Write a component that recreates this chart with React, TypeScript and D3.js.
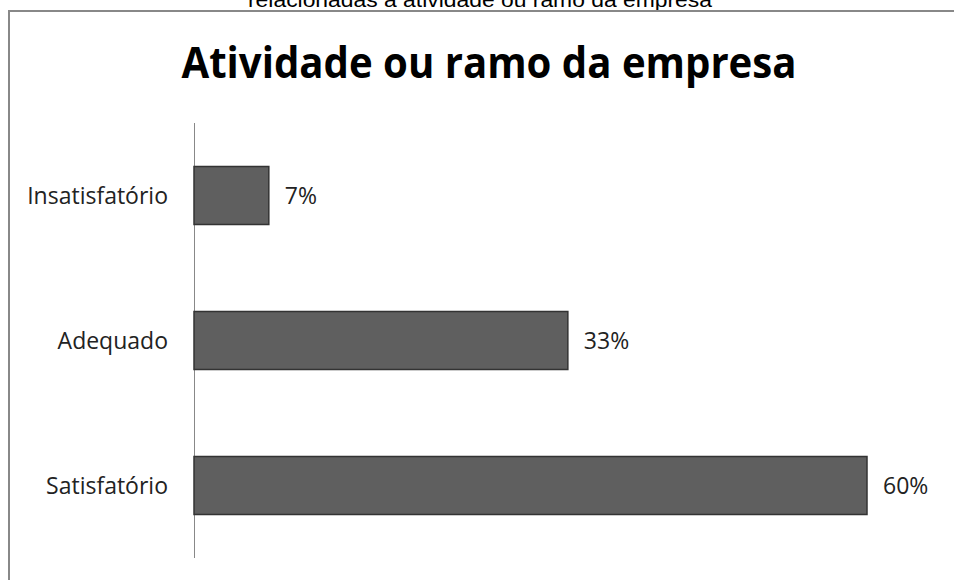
import React from "react";
import * as d3 from "d3";

const categories = ["Insatisfatório", "Adequado", "Satisfatório"];
const values = [6.67, 33.33, 60];
const valueLabels = ["7%", "33%", "60%"];
const chartTitle = "Atividade ou ramo da empresa";
const topCaption = "relacionadas à atividade ou ramo da empresa";

export default function App() {
  const W = 954;
  const H = 580;
  const x0 = 194;
  const y = d3.scaleBand<string>().domain(categories).range([123, 558]).paddingInner(0.6).paddingOuter(0.3);
  const x = d3.scaleLinear().domain([0, 60]).range([x0, 867]);
  const font = "Open Sans, Lato, sans-serif";
  return (
    <svg width={W} height={H} style={{ position: "absolute", left: 0, top: 0, background: "#fff" }}>
      <text x={480} y={7} textAnchor="middle" fontFamily="Liberation Sans, Arial, sans-serif" fontSize={20} fill="#000" textLength={464} lengthAdjust="spacingAndGlyphs">
        {topCaption}
      </text>
      <path d={`M9,${H + 5} V11 H${W + 5}`} fill="none" stroke="#888" strokeWidth={2} />
      <text x={489} y={78} textAnchor="middle" fontFamily={font} fontWeight="bold" fontSize={43} fill="#000" textLength={615} lengthAdjust="spacingAndGlyphs">
        {chartTitle}
      </text>
      <line x1={x0 + 0.5} x2={x0 + 0.5} y1={123} y2={558} stroke="#888" strokeWidth={1} />
      {categories.map((c, i) => {
        const by = y(c)!;
        const bh = y.bandwidth();
        return (
          <g key={c}>
            <rect x={x(0)} y={by} width={x(values[i]) - x(0)} height={bh} fill="#5f5f5f" stroke="#333" strokeWidth={1.5} />
            <text x={168} y={by + bh / 2} dy="0.35em" textAnchor="end" fontFamily={font} fontSize={23} fill="#222">
              {c}
            </text>
            <text x={x(values[i]) + 16} y={by + bh / 2} dy="0.35em" textAnchor="start" fontFamily={font} fontSize={23} fill="#222">
              {valueLabels[i]}
            </text>
          </g>
        );
      })}
    </svg>
  );
}
